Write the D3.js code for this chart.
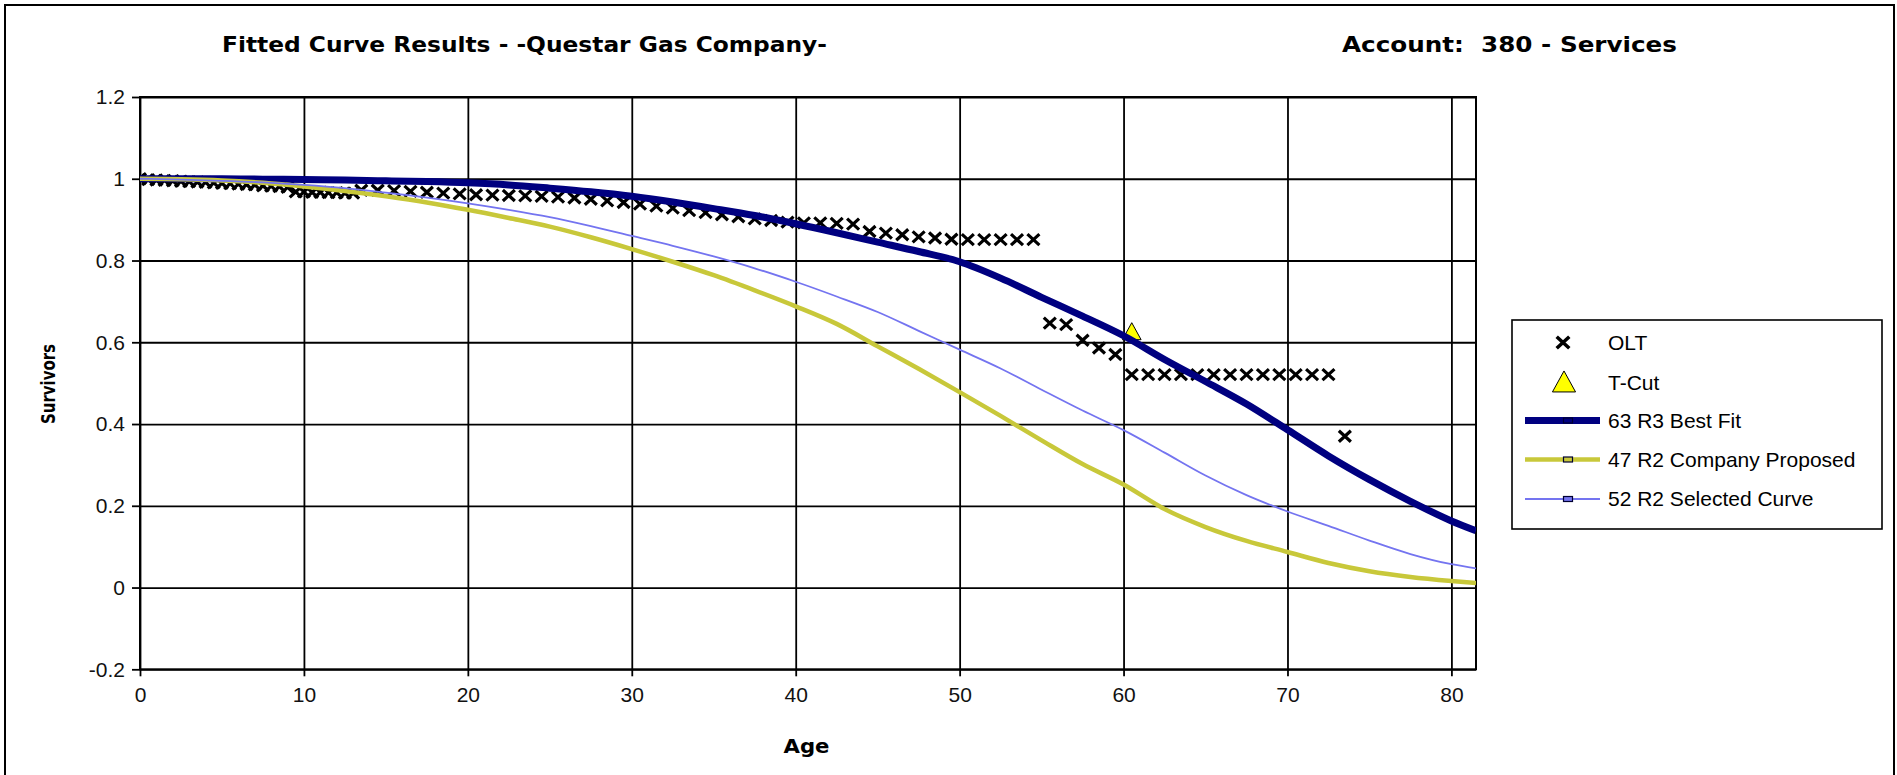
<!DOCTYPE html>
<html><head><meta charset="utf-8">
<script src="https://cdn.jsdelivr.net/npm/d3@7"></script>
<style>
html,body{margin:0;padding:0;background:#fff;overflow:hidden}
svg{display:block}
</style></head><body>
<svg id="chart" width="1897" height="775"></svg>
<script>
// ---------- data ----------
const titleText = "Fitted Curve Results - -Questar Gas Company-";
const accountText = "Account:  380 - Services";
const xLabel = "Age";
const yLabel = "Survivors";
const xTicks = [0, 10, 20, 30, 40, 50, 60, 70, 80];
const yTicks = [-0.2, 0, 0.2, 0.4, 0.6, 0.8, 1.0, 1.2];
const yTickLabels = ["-0.2", "0", "0.2", "0.4", "0.6", "0.8", "1", "1.2"];
const seriesNames = ["OLT", "T-Cut", "63 R3 Best Fit", "47 R2 Company Proposed", "52 R2 Selected Curve"];

const oltAges = [0, 0.5, 1, 1.5, 2, 2.5, 3, 3.5, 4, 4.5, 5, 5.5, 6, 6.5, 7, 7.5, 8, 8.5, 9,
  9.5, 10, 10.5, 11, 11.5, 12, 12.5, 13,
  13.5, 14.5, 15.5, 16.5, 17.5, 18.5, 19.5, 20.5, 21.5, 22.5, 23.5, 24.5, 25.5, 26.5, 27.5,
  28.5, 29.5, 30.5, 31.5, 32.5, 33.5, 34.5, 35.5, 36.5, 37.5, 38.5, 39.5, 40.5, 41.5, 42.5,
  43.5, 44.5, 45.5, 46.5, 47.5, 48.5, 49.5, 50.5, 51.5, 52.5, 53.5, 54.5,
  55.5, 56.5, 57.5, 58.5, 59.5, 60.5, 61.5, 62.5, 63.5, 64.5, 65.5, 66.5, 67.5, 68.5, 69.5,
  70.5, 71.5, 72.5, 73.5];
const oltValues = [1.0, 0.998, 0.997, 0.996, 0.995, 0.994, 0.993, 0.992, 0.991, 0.990, 0.989, 0.988, 0.987, 0.986, 0.985, 0.983, 0.982, 0.981, 0.979,
  0.968, 0.968, 0.967, 0.967, 0.966, 0.966, 0.965, 0.965,
  0.972, 0.972, 0.971, 0.969, 0.967, 0.965, 0.963, 0.961, 0.960, 0.959, 0.958, 0.957, 0.955, 0.953, 0.950,
  0.946, 0.942, 0.938, 0.933, 0.928, 0.922, 0.917, 0.912, 0.907, 0.902, 0.898, 0.894, 0.892, 0.892, 0.891,
  0.889, 0.871, 0.867, 0.863, 0.858, 0.855, 0.852, 0.851, 0.851, 0.851, 0.851, 0.851,
  0.647, 0.643, 0.605, 0.586, 0.570, 0.521, 0.521, 0.521, 0.521, 0.521, 0.521, 0.521, 0.521, 0.521, 0.521,
  0.521, 0.521, 0.521, 0.370];

const tcutAges = [60.5];
const tcutValues = [0.625];

const curveAges = [0, 2.5, 5, 7.5, 10, 12.5, 15, 17.5, 20, 22.5, 25, 27.5, 30, 32.5, 35, 37.5, 40,
  42.5, 45, 47.5, 50, 52.5, 55, 57.5, 60, 62.5, 65, 67.5, 70, 72.5, 75, 77.5, 80, 81.5];
const bestFit = [1.0, 1.0, 1.0, 0.999, 0.998, 0.997, 0.995, 0.993, 0.990, 0.985, 0.977, 0.968, 0.957,
  0.943, 0.927, 0.910, 0.890, 0.868, 0.845, 0.822, 0.797, 0.757, 0.710, 0.664, 0.616, 0.558, 0.504,
  0.449, 0.386, 0.322, 0.264, 0.211, 0.163, 0.139];
const companyProposed = [1.0, 0.999, 0.996, 0.990, 0.981, 0.970, 0.957, 0.942, 0.924, 0.904, 0.883,
  0.857, 0.828, 0.797, 0.764, 0.727, 0.688, 0.645, 0.590, 0.535, 0.478, 0.420, 0.360, 0.302, 0.252,
  0.192, 0.148, 0.114, 0.087, 0.060, 0.040, 0.026, 0.016, 0.011];
const selectedCurve = [1.0, 0.998, 0.995, 0.991, 0.985, 0.977, 0.966, 0.954, 0.940, 0.924, 0.906,
  0.884, 0.860, 0.836, 0.810, 0.781, 0.748, 0.712, 0.674, 0.628, 0.582, 0.536, 0.484, 0.433, 0.385,
  0.330, 0.274, 0.226, 0.186, 0.151, 0.115, 0.082, 0.057, 0.047];

// ---------- layout ----------
const W = 1897, H = 775;
const P = {left: 140, right: 1476, top: 97, bottom: 669.3};
const svg = d3.select("#chart");
const tickFont = "'Liberation Sans', Arial, sans-serif";
const boldFont = "'DejaVu Sans', Verdana, sans-serif";

svg.append("rect").attr("width", W).attr("height", H).attr("fill", "#fff");
// outer frame
svg.append("rect").attr("x", 5).attr("y", 5).attr("width", 1889).attr("height", 800)
  .attr("fill", "none").attr("stroke", "#000").attr("stroke-width", 2);

const x = d3.scaleLinear().domain([0, 81.5]).range([P.left, P.right]);
const y = d3.scaleLinear().domain([-0.2, 1.2]).range([P.bottom, P.top]);

// gridlines
const gx = svg.append("g").attr("transform", `translate(0,${P.bottom})`)
  .call(d3.axisBottom(x).tickValues(xTicks).tickSize(-(P.bottom - P.top)).tickFormat(""));
gx.select(".domain").remove();
gx.selectAll("line").attr("stroke", "#000").attr("stroke-width", 1.8);
const gy = svg.append("g").attr("transform", `translate(${P.left},0)`)
  .call(d3.axisLeft(y).tickValues(yTicks).tickSize(-(P.right - P.left)).tickFormat(""));
gy.select(".domain").remove();
gy.selectAll("line").attr("stroke", "#000").attr("stroke-width", 1.8);

// axes with tick marks & labels
const ax = svg.append("g").attr("transform", `translate(0,${P.bottom})`)
  .call(d3.axisBottom(x).tickValues(xTicks).tickSize(7).tickPadding(11).tickFormat(d3.format("d")));
ax.select(".domain").remove();
ax.selectAll("line").attr("stroke", "#000").attr("stroke-width", 1.8);
ax.selectAll("text").attr("font-family", tickFont).attr("font-size", 21).attr("fill", "#111");

const ay = svg.append("g").attr("transform", `translate(${P.left},0)`)
  .call(d3.axisLeft(y).tickValues(yTicks).tickSize(8).tickPadding(7)
    .tickFormat((d, i) => yTickLabels[i]));
ay.select(".domain").remove();
ay.selectAll("line").attr("stroke", "#000").attr("stroke-width", 1.8);
ay.selectAll("text").attr("font-family", tickFont).attr("font-size", 21).attr("fill", "#111");

// plot frame
svg.append("rect").attr("x", P.left).attr("y", P.top)
  .attr("width", P.right - P.left).attr("height", P.bottom - P.top)
  .attr("fill", "none").attr("stroke", "#000").attr("stroke-width", 2);

// clip
svg.append("clipPath").attr("id", "clip").append("rect")
  .attr("x", P.left).attr("y", P.top).attr("width", P.right - P.left).attr("height", P.bottom - P.top);
const plot = svg.append("g").attr("clip-path", "url(#clip)");

const xMark = "M-6,-5.5L6,5.5M-6,5.5L6,-5.5";
const tri = s => `M0,${-s * 0.55}L${s * 0.55},${s * 0.45}L${-s * 0.55},${s * 0.45}Z`;

// OLT markers
const oltData = oltAges.map((a, i) => ({a, v: oltValues[i]}));
plot.append("g").selectAll("path").data(oltData).join("path")
  .attr("transform", d => `translate(${x(d.a)},${y(d.v)})`)
  .attr("d", xMark).attr("stroke", "#000").attr("stroke-width", 3.2).attr("fill", "none");

// T-cut
const tcutData = tcutAges.map((a, i) => ({a, v: tcutValues[i]}));
plot.append("g").selectAll("path").data(tcutData).join("path")
  .attr("transform", d => `translate(${x(d.a)},${y(d.v)})`)
  .attr("d", tri(17)).attr("fill", "#ffff00").attr("stroke", "#000").attr("stroke-width", 1);

// curves
const line = d3.line().x(d => x(d.a)).y(d => y(d.v)).curve(d3.curveMonotoneX);
const mk = arr => curveAges.map((a, i) => ({a, v: arr[i]}));
const curves = [
  {data: mk(bestFit), color: "#000080", w: 7},
  {data: mk(companyProposed), color: "#c8c83a", w: 4.5},
  {data: mk(selectedCurve), color: "#7474f0", w: 1.8}
];
curves.forEach(c => {
  plot.append("path").attr("d", line(c.data)).attr("fill", "none")
    .attr("stroke", c.color).attr("stroke-width", c.w).attr("stroke-linejoin", "round");
});

// titles
svg.append("text").attr("x", 222).attr("y", 52).text(titleText)
  .attr("font-family", boldFont).attr("font-weight", "bold").attr("font-size", 21)
  .attr("textLength", 605).attr("lengthAdjust", "spacingAndGlyphs").attr("fill", "#000")
  .style("white-space", "pre");
svg.append("text").attr("x", 1342).attr("y", 52).text(accountText)
  .attr("font-family", boldFont).attr("font-weight", "bold").attr("font-size", 21)
  .attr("textLength", 335).attr("lengthAdjust", "spacingAndGlyphs").attr("fill", "#000")
  .style("white-space", "pre");
svg.append("text").attr("x", 806.5).attr("y", 753).attr("text-anchor", "middle").text(xLabel)
  .attr("font-family", boldFont).attr("font-weight", "bold").attr("font-size", 20)
  .attr("textLength", 46).attr("lengthAdjust", "spacingAndGlyphs");
svg.append("text").attr("transform", "translate(55,384) rotate(-90)").attr("text-anchor", "middle")
  .text(yLabel).attr("font-family", boldFont).attr("font-weight", "bold").attr("font-size", 20)
  .attr("textLength", 80).attr("lengthAdjust", "spacingAndGlyphs");

// legend
const L = {x: 1512, y: 320, w: 370, h: 209};
const lg = svg.append("g");
lg.append("rect").attr("x", L.x).attr("y", L.y).attr("width", L.w).attr("height", L.h)
  .attr("fill", "#fff").attr("stroke", "#000").attr("stroke-width", 1.6);
const rowY = [342.5, 382.5, 420.5, 459.5, 499];
const legendItems = seriesNames.map((n, i) => ({name: n, i}));
lg.selectAll("text").data(legendItems).join("text")
  .attr("x", 1608).attr("y", d => rowY[d.i]).attr("dy", "0.35em").text(d => d.name)
  .attr("font-family", tickFont).attr("font-size", 21).attr("fill", "#000");
// OLT symbol
lg.append("path").attr("transform", `translate(1563,${rowY[0]}) scale(1.05)`).attr("d", xMark)
  .attr("stroke", "#000").attr("stroke-width", 3.4).attr("fill", "none");
// T-cut symbol
lg.append("path").attr("transform", `translate(1564,${rowY[1]})`).attr("d", tri(21))
  .attr("fill", "#ffff00").attr("stroke", "#000").attr("stroke-width", 1);
// line symbols
curves.forEach((c, k) => {
  const yy = rowY[k + 2];
  lg.append("line").attr("x1", 1525).attr("x2", 1600).attr("y1", yy).attr("y2", yy)
    .attr("stroke", c.color).attr("stroke-width", c.w);
  lg.append("rect").attr("x", 1563.5).attr("y", yy - 2.5).attr("width", 9).attr("height", 5)
    .attr("fill", c.color).attr("stroke", "#000033").attr("stroke-width", 1.2);
});
</script>
</body></html>
